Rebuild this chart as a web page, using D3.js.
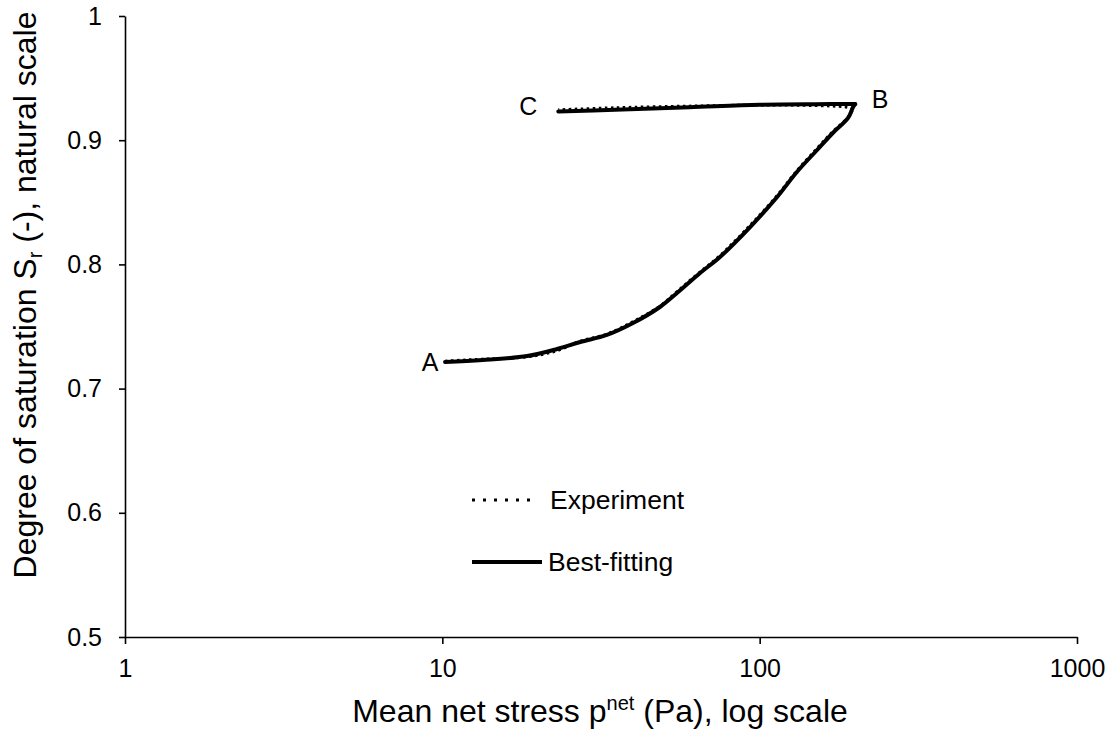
<!DOCTYPE html>
<html>
<head>
<meta charset="utf-8">
<script src="https://cdn.jsdelivr.net/npm/d3@7"></script>
<style>
  body { margin: 0; background: #fff; }
  svg text { font-family: "Liberation Sans", Arial, sans-serif; fill: #000; }
</style>
</head>
<body>
<div id="chart"></div>
<script>
// best-fitting curve: loading A -> B, then unloading B -> C
let fit_load_p = [10.2, 13.4, 18.5, 23.0, 27.2, 33.0, 39.9, 48.5, 54.9, 64.9, 75.0, 93.3, 113.5, 131, 151.7, 170, 190, 197, 200];
let fit_load_s = [0.7215, 0.723, 0.7262, 0.7319, 0.7375, 0.7432, 0.7528, 0.7657, 0.777, 0.7931, 0.806, 0.8301, 0.8543, 0.8744, 0.8921, 0.9058, 0.9179, 0.9267, 0.9291];
let fit_unload_p = [200, 150, 100, 60, 35, 23.2];
let fit_unload_s = [0.9291, 0.9290, 0.9285, 0.9265, 0.9245, 0.9232];

// experiment (dotted)
let exp_load_p = [10.2, 13.4, 18.5, 23.0, 27.2, 33.0, 39.9, 48.5, 54.9, 64.9, 75.0, 93.3, 113.5, 131, 151.7, 170, 190, 197];
let exp_load_s = [0.7222, 0.7238, 0.7255, 0.7305, 0.7382, 0.7440, 0.7540, 0.7665, 0.7782, 0.7940, 0.8072, 0.8315, 0.8555, 0.8755, 0.8935, 0.9070, 0.9185, 0.9255];
let exp_unload_p = [197, 185, 150, 100, 60, 35, 23.2];
let exp_unload_s = [0.9255, 0.9268, 0.9278, 0.9283, 0.9275, 0.9262, 0.9245];

let x_ticks = [1, 10, 100, 1000];
let y_ticks = [0.5, 0.6, 0.7, 0.8, 0.9, 1];

let point_labels = ['A', 'B', 'C'];
let point_p = [10.2, 200, 23.2];
let point_s = [0.7215, 0.9291, 0.9232];

let width = 1117, height = 733;
let margin = { top: 16, right: 40, bottom: 96, left: 125 };

let svg = d3.select('#chart').append('svg')
    .attr('width', width)
    .attr('height', height);

let x = d3.scaleLog()
    .domain([1, 1000])
    .range([margin.left, width - margin.right]);

let y = d3.scaleLinear()
    .domain([0.5, 1])
    .range([height - margin.bottom, margin.top]);

// axes
let xAxis = svg.append('g')
    .attr('transform', 'translate(0,' + y(0.5) + ')')
    .call(d3.axisBottom(x).tickValues(x_ticks).tickFormat(d3.format('d')).tickSize(7).tickSizeOuter(0));
let yAxis = svg.append('g')
    .attr('transform', 'translate(' + x(1) + ',0)')
    .call(d3.axisLeft(y).tickValues(y_ticks).tickFormat(d => d == 1 ? '1' : d3.format('.1f')(d)).tickSize(6).tickSizeOuter(0));

svg.selectAll('.domain, .tick line').attr('stroke', '#000').attr('stroke-width', 1.6);
xAxis.selectAll('text').style('font-size', '25px').attr('y', 40).attr('dy', 0);
yAxis.selectAll('text').style('font-size', '25px').attr('x', -23);

// lines
let zip = (ps, ss) => ps.map((p, i) => [p, ss[i]]);

let line = d3.line()
    .x(d => x(d[0]))
    .y(d => y(d[1]))
    .curve(d3.curveCatmullRom.alpha(0.5));

[zip(exp_load_p, exp_load_s), zip(exp_unload_p, exp_unload_s)].forEach(function (data) {
    svg.append('path')
        .datum(data)
        .attr('d', line)
        .attr('fill', 'none')
        .attr('stroke', '#000')
        .attr('stroke-width', 2.8)
        .attr('stroke-dasharray', '2.5,3.5');
});

[zip(fit_load_p, fit_load_s), zip(fit_unload_p, fit_unload_s)].forEach(function (data) {
    svg.append('path')
        .datum(data)
        .attr('d', line)
        .attr('fill', 'none')
        .attr('stroke', '#000')
        .attr('stroke-width', 4)
        .attr('stroke-linejoin', 'round')
        .attr('stroke-linecap', 'round');
});

// point labels A, B, C
let label_dx = [-15, 25, -30];
let label_dy = [0, -5, -5];
svg.selectAll('.ptlabel')
    .data(point_labels)
    .enter()
    .append('text')
    .attr('x', (d, i) => x(point_p[i]) + label_dx[i])
    .attr('y', (d, i) => y(point_s[i]) + label_dy[i])
    .attr('text-anchor', 'middle')
    .attr('dominant-baseline', 'central')
    .style('font-size', '25px')
    .text(d => d);

// legend
let legend = svg.append('g').attr('transform', 'translate(472,500)');
legend.append('line')
    .attr('x1', 0).attr('x2', 66).attr('y1', 0).attr('y2', 0)
    .attr('stroke', '#000').attr('stroke-width', 3).attr('stroke-dasharray', '3,8');
legend.append('text')
    .attr('x', 78).attr('y', 0).attr('dominant-baseline', 'central')
    .style('font-size', '26.5px').text('Experiment');
legend.append('line')
    .attr('x1', 0).attr('x2', 70).attr('y1', 62).attr('y2', 62)
    .attr('stroke', '#000').attr('stroke-width', 4);
legend.append('text')
    .attr('x', 76).attr('y', 62).attr('dominant-baseline', 'central')
    .style('font-size', '26.5px').text('Best-fitting');

// axis titles
let xt = svg.append('text')
    .attr('x', 600)
    .attr('y', 722)
    .attr('text-anchor', 'middle')
    .style('font-size', '32px');
xt.append('tspan').text('Mean net stress p');
xt.append('tspan').attr('dy', -12).style('font-size', '20px').text('net');
xt.append('tspan').attr('dy', 12).text(' (Pa), log scale');

let yt = svg.append('text')
    .attr('transform', 'translate(36,295) rotate(-90)')
    .attr('text-anchor', 'middle')
    .style('font-size', '32px');
yt.append('tspan').text('Degree of saturation S');
yt.append('tspan').attr('dy', 6).style('font-size', '20px').text('r');
yt.append('tspan').attr('dy', -6).text(' (-), natural scale');
</script>
</body>
</html>
